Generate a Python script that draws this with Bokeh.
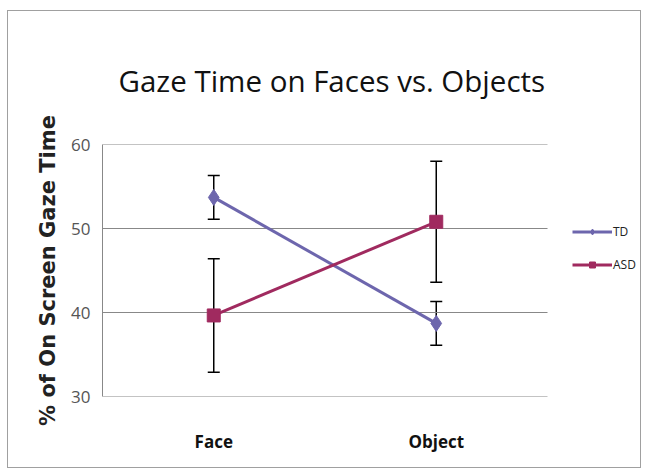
from bokeh.plotting import figure
from bokeh.models import ColumnDataSource, Range1d, Whisker, TeeHead, Legend, LegendItem, FixedTicker, Title
from bokeh.embed import file_html
from bokeh.resources import INLINE

categories = ["Face", "Object"]
td_values = [53.7, 38.7]
td_errors = [2.6, 2.6]
asd_values = [39.65, 50.8]
asd_errors = [6.75, 7.2]
y_ticks = [30, 40, 50, 60]

td_color = "#6d66ad"
asd_color = "#a02a5f"

# layout (pixels)
W, H = 634, 458
left, right, top, bottom = 94, 2, 133, 73
plot_w = 445                       # width of the drawn plot area (gridlines)
frame_w = W - left - right         # frame extends to hold the legend
n = len(categories)
xs = [i + 0.5 for i in range(n)]

p = figure(width=W, height=H, x_range=Range1d(0, n * frame_w / plot_w),
           y_range=Range1d(min(y_ticks), max(y_ticks)), output_backend="svg", toolbar_location=None,
           min_border_left=left, min_border_right=right, min_border_top=top, min_border_bottom=bottom)
p.styles = {"border": "1px solid #a0a0a0"}
p.margin = (10, 0, 0, 7)
p.outline_line_color = None
p.background_fill_color = "white"

# gridlines limited to the plot area
p.segment(x0=[0] * len(y_ticks), x1=[n] * len(y_ticks), y0=y_ticks, y1=y_ticks,
          line_color="#888888", line_width=1.2)

src_td = ColumnDataSource(dict(x=xs, y=td_values,
                               lo=[v - e for v, e in zip(td_values, td_errors)],
                               hi=[v + e for v, e in zip(td_values, td_errors)]))
src_asd = ColumnDataSource(dict(x=xs, y=asd_values,
                                lo=[v - e for v, e in zip(asd_values, asd_errors)],
                                hi=[v + e for v, e in zip(asd_values, asd_errors)]))

for src in (src_td, src_asd):
    w = Whisker(source=src, base="x", lower="lo", upper="hi", line_color="black", line_width=1.5,
                upper_head=TeeHead(size=12, line_color="black", line_width=1.5),
                lower_head=TeeHead(size=12, line_color="black", line_width=1.5))
    p.add_layout(w)

l1 = p.line("x", "y", source=src_td, line_color=td_color, line_width=3)
m1 = p.scatter("x", "y", source=src_td, marker="diamond", size=16, fill_color=td_color, line_color=td_color)
l2 = p.line("x", "y", source=src_asd, line_color=asd_color, line_width=3)
m2 = p.scatter("x", "y", source=src_asd, marker="square", size=13, fill_color=asd_color, line_color=asd_color)

legend = Legend(items=[LegendItem(label="TD", renderers=[l1, m1]),
                       LegendItem(label="ASD", renderers=[l2, m2])],
                location=(470, 123), padding=0, margin=0, border_line_color=None,
                background_fill_alpha=0, glyph_width=40, glyph_height=15, spacing=16,
                label_standoff=1, label_text_font="Open Sans", label_text_font_size="12px",
                label_text_color="#222222", label_height=15)
p.add_layout(legend)

# title
p.title = Title(text="Gaze Time on Faces vs. Objects", align="left", offset=16, text_font="Open Sans",
                text_font_size="29.5px", text_font_style="normal", text_color="#111111",
                standoff=87)

# axes
p.yaxis.ticker = FixedTicker(ticks=y_ticks)
p.yaxis.axis_line_color = "#888888"
p.yaxis.major_tick_line_color = None
p.yaxis.minor_tick_line_color = None
p.yaxis.major_label_text_font = "Open Sans"
p.yaxis.major_label_text_font_size = "17px"
p.yaxis.major_label_text_color = "#555555"
p.yaxis.major_label_standoff = 6
p.yaxis.axis_label = "% of On Screen Gaze Time"
p.yaxis.axis_label_text_font = "DejaVu Sans"
p.yaxis.axis_label_text_font_style = "bold"
p.yaxis.axis_label_text_font_size = "21px"
p.yaxis.axis_label_text_color = "#222222"
p.yaxis.axis_label_standoff = 8

p.xaxis.ticker = FixedTicker(ticks=xs)
p.xaxis.major_label_overrides = {x: c for x, c in zip(xs, categories)}
p.xaxis.axis_line_color = None
p.xaxis.major_tick_line_color = None
p.xaxis.minor_tick_line_color = None
p.xaxis.major_label_text_font = "Open Sans"
p.xaxis.major_label_text_font_style = "bold"
p.xaxis.major_label_text_font_size = "17px"
p.xaxis.major_label_text_color = "#111111"
p.xaxis.major_label_standoff = 27

p.xgrid.grid_line_color = None
p.ygrid.grid_line_color = None

open("out.html", "w").write(file_html(p, INLINE))
